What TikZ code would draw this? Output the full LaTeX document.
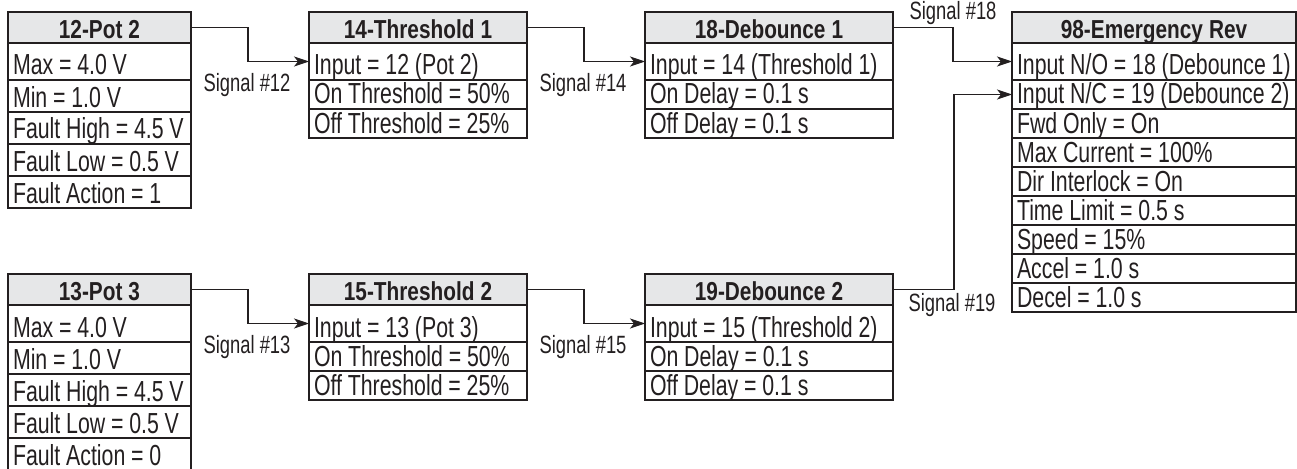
\documentclass[tikz,border=0pt]{standalone}
\usepackage{fontspec}
\setmainfont{Liberation Sans}[FakeStretch=0.735]
\newfontfamily\titrefont{Liberation Sans}[FakeStretch=0.8]
\usetikzlibrary{arrows.meta}
\definecolor{encre}{HTML}{231F20}
\definecolor{gris}{HTML}{E6E7E8}

\begin{document}
\begin{tikzpicture}[x=1pt, y=-1pt]
	\tikzset{titre/.style={draw=encre, line width=1.2pt, fill=gris, anchor=north west, outer sep=0pt, inner xsep=5pt, inner ysep=0pt, minimum height=31pt, text height=22pt, text depth=0pt, align=center, text=encre, font=\titrefont\bfseries\fontsize{26}{26}\selectfont,
			execute at begin node={\spaceskip 6pt\relax}},
		case/.style={draw=encre, line width=1.2pt, anchor=north west, outer sep=0pt, inner xsep=5pt, inner ysep=0pt, text height=27pt, text depth=5pt, align=left, text=encre, font=\fontsize{29}{29}\selectfont,
			execute at begin node={\spaceskip 5.8pt\relax\leavevmode\hbox\bgroup}, execute at end node={\egroup}},
		haute/.style={text height=32pt}, mince/.style={text height=24pt},
		pot/.style={text width=173pt}, seuil/.style={text width=208pt}, rebond/.style={text width=238pt}, urgence/.style={text width=274pt},
		fleche/.style={-{Stealth[length=15pt, width=10pt, inset=4pt]}, draw=encre, line width=1.1pt},
		signal/.style={anchor=base, text=encre, font=\fontsize{25}{25}\selectfont, execute at begin node={\spaceskip 5.2pt\relax}}};

	\useasboundingbox (0,0) rectangle (1297,468);

	% rangee du haut
	\node[titre, pot] (p2) at (8,12) {12-Pot 2};
	\node[case, pot, haute] (p2a) at (p2.south west) {Max = 4.0 V};
	\node[case, pot] (p2b) at (p2a.south west) {Min = 1.0 V};
	\node[case, pot] (p2c) at (p2b.south west) {Fault High = 4.5 V};
	\node[case, pot] (p2d) at (p2c.south west) {Fault Low = 0.5 V};
	\node[case, pot] (p2e) at (p2d.south west) {Fault Action = 1};

	\node[titre, seuil] (s1) at (309,12) {14-Threshold 1};
	\node[case, seuil, haute] (s1a) at (s1.south west) {Input = 12 (Pot 2)};
	\node[case, seuil, mince] (s1b) at (s1a.south west) {On Threshold = 50\%};
	\node[case, seuil, mince] (s1c) at (s1b.south west) {Off Threshold = 25\%};

	\node[titre, rebond] (r1) at (645,12) {18-Debounce 1};
	\node[case, rebond, haute] (r1a) at (r1.south west) {Input = 14 (Threshold 1)};
	\node[case, rebond, mince] (r1b) at (r1a.south west) {On Delay = 0.1 s};
	\node[case, rebond, mince] (r1c) at (r1b.south west) {Off Delay = 0.1 s};

	% rangee du bas
	\node[titre, pot] (p3) at (8,274) {13-Pot 3};
	\node[case, pot, haute] (p3a) at (p3.south west) {Max = 4.0 V};
	\node[case, pot] (p3b) at (p3a.south west) {Min = 1.0 V};
	\node[case, pot] (p3c) at (p3b.south west) {Fault High = 4.5 V};
	\node[case, pot] (p3d) at (p3c.south west) {Fault Low = 0.5 V};
	\node[case, pot] (p3e) at (p3d.south west) {Fault Action = 0};

	\node[titre, seuil] (s2) at (309,274) {15-Threshold 2};
	\node[case, seuil, haute] (s2a) at (s2.south west) {Input = 13 (Pot 3)};
	\node[case, seuil, mince] (s2b) at (s2a.south west) {On Threshold = 50\%};
	\node[case, seuil, mince] (s2c) at (s2b.south west) {Off Threshold = 25\%};

	\node[titre, rebond] (r2) at (645,274) {19-Debounce 2};
	\node[case, rebond, haute] (r2a) at (r2.south west) {Input = 15 (Threshold 2)};
	\node[case, rebond, mince] (r2b) at (r2a.south west) {On Delay = 0.1 s};
	\node[case, rebond, mince] (r2c) at (r2b.south west) {Off Delay = 0.1 s};

	% bloc de sortie
	\node[titre, urgence] (u) at (1012,12) {98-Emergency Rev};
	\node[case, urgence, haute] (ua) at (u.south west) {Input N/O = 18 (Debounce 1)};
	\node[case, urgence, mince] (ub) at (ua.south west) {Input N/C = 19 (Debounce 2)};
	\node[case, urgence, mince] (uc) at (ub.south west) {Fwd Only = On};
	\node[case, urgence, mince] (ud) at (uc.south west) {Max Current = 100\%};
	\node[case, urgence, mince] (ue) at (ud.south west) {Dir Interlock = On};
	\node[case, urgence, mince] (uf) at (ue.south west) {Time Limit = 0.5 s};
	\node[case, urgence, mince] (ug) at (uf.south west) {Speed = 15\%};
	\node[case, urgence, mince] (uh) at (ug.south west) {Accel = 1.0 s};
	\node[case, urgence, mince] (ui) at (uh.south west) {Decel = 1.0 s};

	% signaux
	\node[signal] (sig12) at (247,91.5) {Signal \#12};
	\node[signal] (sig14) at (583,91.5) {Signal \#14};
	\node[signal] (sig18) at (953,19.5) {Signal \#18};
	\node[signal] (sig13) at (247,353) {Signal \#13};
	\node[signal] (sig15) at (583,353) {Signal \#15};
	\node[signal] (sig19) at (952,311) {Signal \#19};

	\draw[fleche] (p2.east) -- ++(57,0) |- (s1a.west);
	\draw[fleche] (s1.east) -- ++(57,0) |- (r1a.west);
	\draw[fleche] (r1.east) -- ++(60,0) |- (ua.west);
	\draw[fleche] (p3.east) -- ++(57,0) |- (s2a.west);
	\draw[fleche] (s2.east) -- ++(57,0) |- (r2a.west);
	\draw[fleche] (r2.east) -- ++(61,0) |- (ub.west);

\end{tikzpicture}
\end{document}
